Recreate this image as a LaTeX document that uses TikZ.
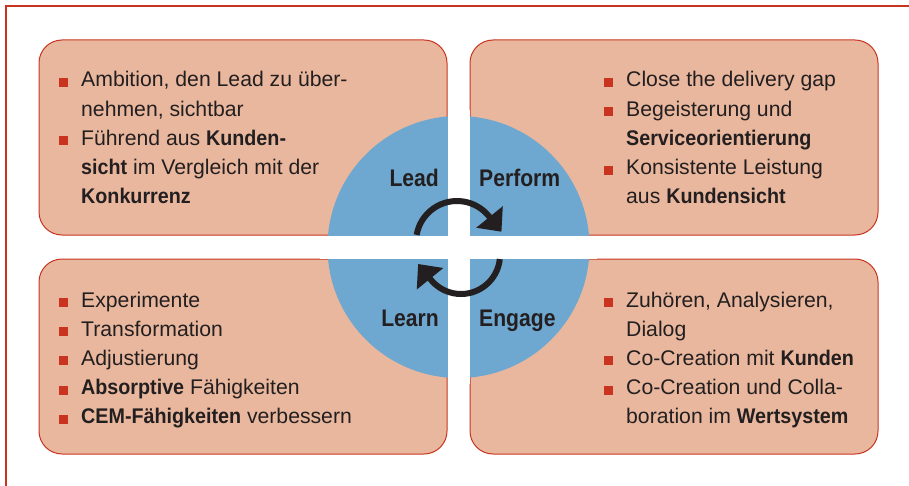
\documentclass[tikz,border=0pt]{standalone}
\usepackage{fontspec}
\setmainfont{Liberation Sans}[BoldFeatures={FakeStretch=0.93}]
\newfontfamily\hubfont{Liberation Sans Bold}[FakeStretch=0.88]
\usepackage{tikz}
\usetikzlibrary{arrows.meta}
\definecolor{boxred}{RGB}{200,52,32}
\definecolor{boxfill}{RGB}{233,183,157}
\definecolor{hubblue}{RGB}{110,167,207}
\definecolor{ink}{RGB}{35,31,32}
\newcommand{\bul}{\leavevmode\llap{\textcolor{boxred}{\rule{9pt}{9pt}}\hspace{13pt}}}
\newcommand{\items}[1]{\begin{tabular}[t]{@{}l@{}}#1\end{tabular}}
\tikzset{
  quad/.style={draw=boxred, line width=1pt, fill=boxfill, rounded corners=23pt},
  txt/.style={anchor=base west, inner sep=0pt, text=ink, font=\fontsize{21.2}{29.2}\selectfont},
  hub/.style={inner sep=0pt, text=ink, font=\hubfont\fontsize{24}{24}\selectfont},
  turn/.style={line width=6pt, draw=ink, -{Triangle[length=19pt,width=33pt]}}
}

\begin{document}
\begin{tikzpicture}[x=1pt, y=-1pt]
      \useasboundingbox (0,0) rectangle (909,486);
      \draw[boxred, line width=2pt] (5.5,486) -- (5.5,6) -- (909,6);
      \draw[quad] (39,40) rectangle (447,235);
      \draw[quad] (470,40) rectangle (878,235);
      \draw[quad] (39,259) rectangle (447,454);
      \draw[quad] (470,259) rectangle (878,454);
      \fill[hubblue] (458.5,247) circle[radius=131];
      \fill[white] (447.5,110) rectangle (469.5,384);
      \fill[white] (320,235.5) rectangle (597,258.5);
      \coordinate (upper) at (457,242);
      \coordinate (lower) at (461,255);
      \draw[turn] (upper) ++(190:41) arc[start angle=190, end angle=321, radius=41] -- +(51:20);
      \draw[turn] (lower) ++(6:39) arc[start angle=6, end angle=141, radius=39] -- +(231:20);
      \node[hub, anchor=base east] (lead) at (439,187) {Lead};
      \node[hub, anchor=base west] (perform) at (479,187) {Perform};
      \node[hub, anchor=base east] (learn) at (439,326) {Learn};
      \node[hub, anchor=base west] (engage) at (479,326) {Engage};
      \node[txt] (leadtxt) at (81,87) {\items{\bul Ambition, den Lead zu über-\\nehmen, sichtbar\\\bul Führend aus \textbf{Kunden-}\\\textbf{sicht} im Vergleich mit der\\\textbf{Konkurrenz}}};
      \node[txt] (performtxt) at (626,87) {\items{\bul Close the delivery gap\\\bul Begeisterung und\\\textbf{Serviceorientierung}\\\bul Konsistente Leistung\\aus \textbf{Kundensicht}}};
      \node[txt] (learntxt) at (81,307) {\items{\bul Experimente\\\bul Transformation\\\bul Adjustierung\\\bul \textbf{Absorptive} Fähigkeiten\\\bul \textbf{CEM-Fähigkeiten} verbessern}};
      \node[txt] (engagetxt) at (626,307) {\items{\bul Zuhören, Analysieren,\\Dialog\\\bul Co-Creation mit \textbf{Kunden}\\\bul Co-Creation und Colla-\\boration im \textbf{Wertsystem}}};
    \end{tikzpicture}
\end{document}
